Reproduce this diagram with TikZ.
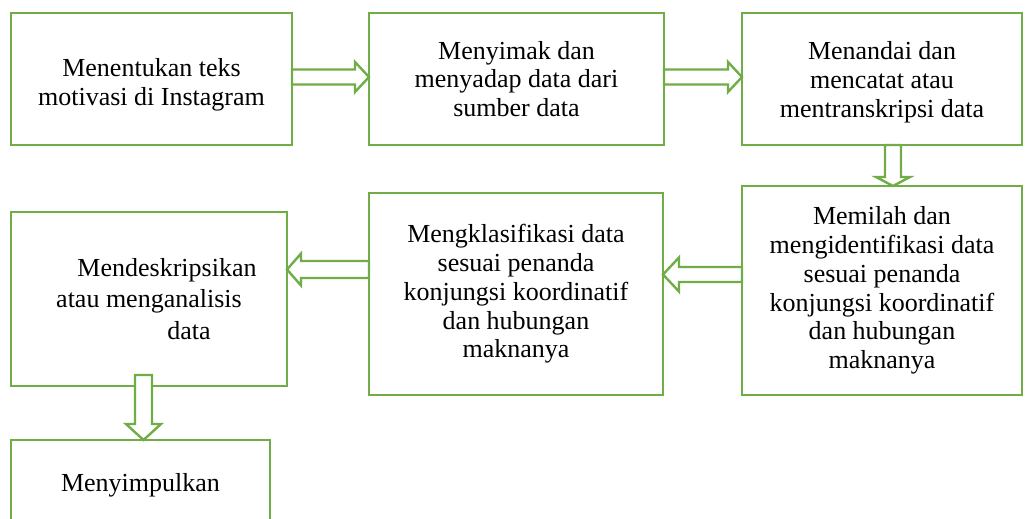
\documentclass[tikz,border=0pt]{standalone}
\usepackage{fontspec}
\setmainfont{Liberation Serif}
\usepackage{tikz}
\usetikzlibrary{calc}
\definecolor{mgreen}{rgb}{0.44, 0.68, 0.28}

\tikzset{
  box/.style={draw=mgreen, line width=2.8pt, outer sep=0pt, inner sep=0pt,
    align=center, font=\fontsize{26}{28.8}\selectfont},
  blockarrow/.style={draw=mgreen, line width=2.4pt, fill=white, line join=miter}
}

% block arrows: start, tip, shaft half width, head half width, head length
\newcommand{\blockright}[5]{%
  \draw [blockarrow] ($(#1)+(0,-#3)$) -- ($(#2)+(-#5,-#3)$) -- ($(#2)+(-#5,-#4)$) -- (#2)
    -- ($(#2)+(-#5,#4)$) -- ($(#2)+(-#5,#3)$) -- ($(#1)+(0,#3)$) -- cycle;}
\newcommand{\blockleft}[5]{%
  \draw [blockarrow] ($(#1)+(0,-#3)$) -- ($(#2)+(#5,-#3)$) -- ($(#2)+(#5,-#4)$) -- (#2)
    -- ($(#2)+(#5,#4)$) -- ($(#2)+(#5,#3)$) -- ($(#1)+(0,#3)$) -- cycle;}
\newcommand{\blockdown}[5]{%
  \draw [blockarrow] ($(#1)+(-#3,0)$) -- ($(#2)+(-#3,-#5)$) -- ($(#2)+(-#4,-#5)$) -- (#2)
    -- ($(#2)+(#4,-#5)$) -- ($(#2)+(#3,-#5)$) -- ($(#1)+(#3,0)$) -- cycle;}

\begin{document}
\begin{tikzpicture}[x=1pt, y=-1pt]
  \clip (0, 0) rectangle (1031, 519);

  % top row
  \node [box, minimum width=281pt, minimum height=132pt] (m1) at (151.5, 79)
    {\rule{0pt}{30pt}Menentukan teks\\motivasi di Instagram};
  \node [box, minimum width=295pt, minimum height=132pt] (m2) at (516.5, 79)
    {Menyimak dan\\menyadap data dari\\sumber data};
  \node [box, minimum width=280pt, minimum height=132pt] (m3) at (882, 79)
    {\rule{0pt}{24pt}Menandai dan\\mencatat atau\\mentranskripsi data};

  % middle row
  \node [box, minimum width=280pt, minimum height=209pt] (m4) at (882, 290.5)
    {Memilah dan\\mengidentifikasi data\\sesuai penanda\\konjungsi koordinatif\\dan hubungan\\maknanya};
  \node [box, minimum width=294pt, minimum height=202pt] (m6) at (516, 294)
    {Mengklasifikasi data\\sesuai penanda\\konjungsi koordinatif\\dan hubungan\\maknanya};
  \node [box, minimum width=276pt, minimum height=174pt,
    font=\fontsize{26}{31.5}\selectfont] (m5) at (149, 299)
    {\hspace*{36pt}Mendeskripsikan\\atau menganalisis\\\hspace*{80pt}data};

  % bottom
  \node [box, minimum width=259pt, minimum height=90pt] (m7) at (140.5, 485)
    {Menyimpulkan};

  % arrows
  \coordinate (a1s) at ($(m1.east)+(0,-2)$);
  \coordinate (a1t) at (m2.west |- a1s);
  \blockright{a1s}{a1t}{7.5}{15}{14}
  \coordinate (a2s) at ($(m2.east)+(0,-2)$);
  \coordinate (a2t) at (m3.west |- a2s);
  \blockright{a2s}{a2t}{7.5}{15}{14}
  \coordinate (a3s) at ($(m3.south)+(11,0)$);
  \coordinate (a3t) at (m4.north -| a3s);
  \blockdown{a3s}{a3t}{8}{17}{9}
  \coordinate (a4s) at ($(m4.west)+(0,-16)$);
  \coordinate (a4t) at (m6.east |- a4s);
  \blockleft{a4s}{a4t}{7.5}{17}{16}
  \coordinate (a5s) at ($(m6.west)+(0,-24.5)$);
  \coordinate (a5t) at (m5.east |- a5s);
  \blockleft{a5s}{a5t}{8.5}{16}{14}
  \coordinate (a6s) at ($(m5.south)+(-5.5,-11)$);
  \coordinate (a6t) at (m7.north -| a6s);
  \blockdown{a6s}{a6t}{8.5}{17.5}{16}
\end{tikzpicture}
\end{document}
